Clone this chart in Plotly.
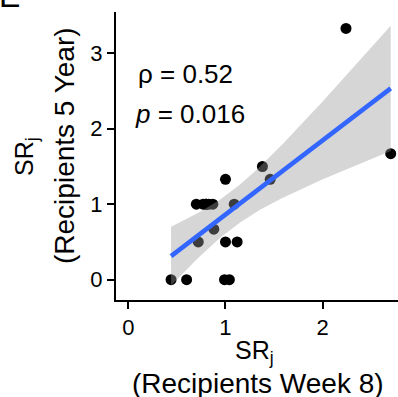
import numpy as np
import plotly.graph_objects as go

# Data
sr_week8 = [0.44, 0.60, 0.99, 1.04, 1.00, 1.12, 0.72, 0.88, 0.70, 0.77, 0.80, 0.80,
            0.80, 0.83, 0.87, 1.09, 1.00, 1.38, 1.46, 2.24, 2.70]
sr_5year = [0, 0, 0, 0, 0.5, 0.5, 0.5, 0.67, 1, 1, 1, 1,
            1, 1, 1, 1, 1.33, 1.5, 1.33, 3.33, 1.67]
x_ticks = [0, 1, 2]
y_ticks = [0, 1, 2, 3]
rho_text = "ρ = 0.52"
p_text = "<i>p</i> = 0.016"
x_title_1 = "SR<sub>j</sub>"
x_title_2 = "(Recipients Week 8)"
y_title_1 = "SR<sub>j</sub>"
y_title_2 = "(Recipients 5 Year)"
panel_label = "E"

# Linear fit with 95% CI (like geom_smooth(method="lm"))
x = np.array(sr_week8, dtype=float)
y = np.array(sr_5year, dtype=float)
n = len(x)
slope, intercept = np.polyfit(x, y, 1)
resid = y - (slope * x + intercept)
s = np.sqrt(np.sum(resid ** 2) / (n - 2))
sxx = np.sum((x - x.mean()) ** 2)
t_crit = 2.093  # t(0.975, df=19)
xf = np.linspace(x.min(), x.max(), 80)
yf = slope * xf + intercept
hw = t_crit * s * np.sqrt(1 / n + (xf - x.mean()) ** 2 / sxx)
lo, hi = yf - hw, yf + hw

W, H = 398, 397
ML, MR, MT, MB = 116, 0, 12, 97
PW, PH = W - ML - MR, H - MT - MB


def px(xp):
    return (xp - ML) / PW


def py(yp):
    return (H - MB - yp) / PH


FONT = "Liberation Sans, Arial, Helvetica, sans-serif"

fig = go.Figure()
fig.add_trace(go.Scatter(x=x, y=y, mode="markers",
                         marker=dict(color="black", size=11, line=dict(width=0)),
                         showlegend=False, hoverinfo="skip"))
fig.add_trace(go.Scatter(x=np.concatenate([xf, xf[::-1]]),
                         y=np.concatenate([hi, lo[::-1]]),
                         fill="toself", fillcolor="rgba(153,153,153,0.4)",
                         line=dict(width=0), mode="lines",
                         showlegend=False, hoverinfo="skip"))
fig.add_trace(go.Scatter(x=xf, y=yf, mode="lines",
                         line=dict(color="#3366FF", width=4.5),
                         showlegend=False, hoverinfo="skip"))

axis_common = dict(showgrid=False, zeroline=False, showline=True, linecolor="black",
                   linewidth=2, ticks="outside", ticklen=7, tickwidth=2,
                   tickcolor="black", tickfont=dict(family=FONT, size=22, color="black"))

fig.update_xaxes(range=[-0.1265, 2.775], tickvals=x_ticks, **axis_common)
fig.update_yaxes(range=[-0.269, 3.547], tickvals=y_ticks, **axis_common)

ann = []
ann.append(dict(x=0.59, y=2.72, xref="x", yref="y", text=rho_text, showarrow=False,
                font=dict(family=FONT, size=26, color="black"),
                xanchor="center", yanchor="middle"))
ann.append(dict(x=0.63, y=2.19, xref="x", yref="y", text=p_text, showarrow=False,
                font=dict(family=FONT, size=26, color="black"),
                xanchor="center", yanchor="middle"))
ann.append(dict(x=px(254), y=py(352), xref="paper", yref="paper", text=x_title_1,
                showarrow=False, font=dict(family=FONT, size=25, color="black"),
                xanchor="center", yanchor="middle"))
ann.append(dict(x=px(257.5), y=py(383), xref="paper", yref="paper", text=x_title_2,
                showarrow=False, font=dict(family=FONT, size=28, color="black"),
                xanchor="center", yanchor="middle"))
ann.append(dict(x=px(26), y=py(157), xref="paper", yref="paper", text=y_title_1,
                showarrow=False, textangle=-90,
                font=dict(family=FONT, size=25, color="black"),
                xanchor="center", yanchor="middle"))
ann.append(dict(x=px(64), y=py(146), xref="paper", yref="paper", text=y_title_2,
                showarrow=False, textangle=-90,
                font=dict(family=FONT, size=28, color="black"),
                xanchor="center", yanchor="middle"))
ann.append(dict(x=px(-3.5), y=py(16), xref="paper", yref="paper", text=panel_label,
                showarrow=False, font=dict(family=FONT, size=32, color="black"),
                xanchor="left", yanchor="bottom"))

fig.update_layout(width=W, height=H, margin=dict(l=ML, r=MR, t=MT, b=MB, pad=0),
                  plot_bgcolor="white", paper_bgcolor="white", annotations=ann)

fig.write_html("out.html")
